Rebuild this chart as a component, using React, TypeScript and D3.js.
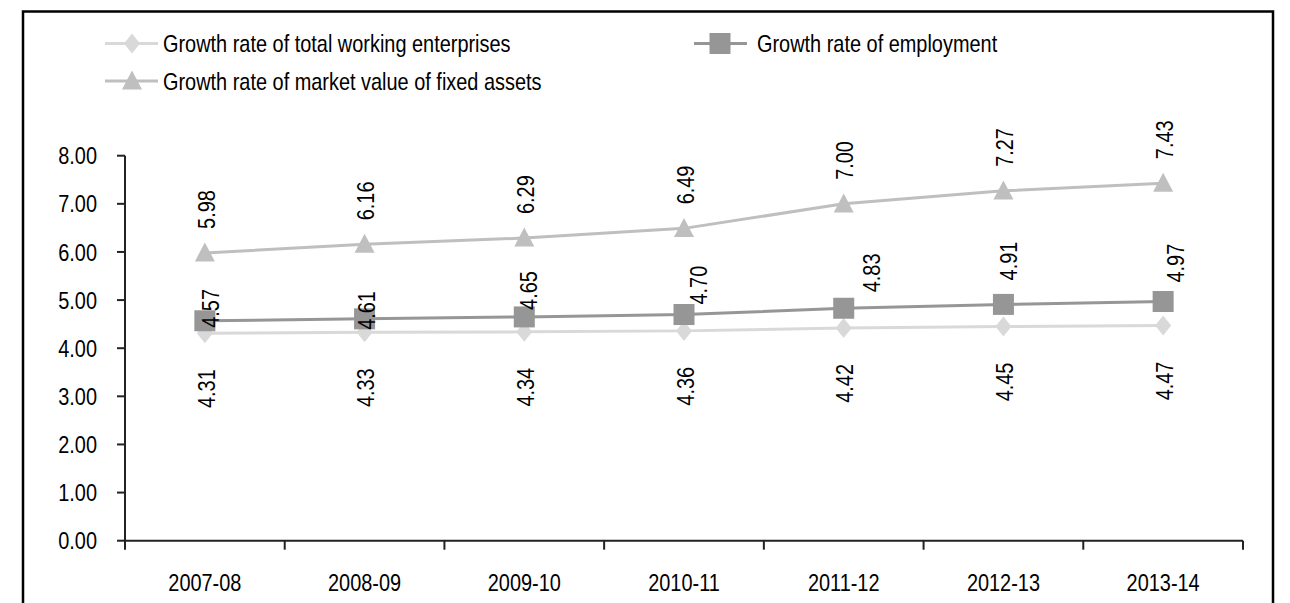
import React from "react";
import * as d3 from "d3";

const categories = ["2007-08", "2008-09", "2009-10", "2010-11", "2011-12", "2012-13", "2013-14"];
const enterprises = [4.31, 4.33, 4.34, 4.36, 4.42, 4.45, 4.47];
const employment = [4.57, 4.61, 4.65, 4.7, 4.83, 4.91, 4.97];
const fixedAssets = [5.98, 6.16, 6.29, 6.49, 7.0, 7.27, 7.43];
const yTicks = [0, 1, 2, 3, 4, 5, 6, 7, 8];
const legendNames = [
  "Growth rate of total working enterprises",
  "Growth rate of employment",
  "Growth rate of market value of fixed assets",
];
// manual label nudges for employment labels (as placed in the original)
const empLabelDx = [5, 2, 4, 14, 28, 5, 12];
const empLabelDy = [7, 11, -7, -10, -16, -24, -19];

const W = 1290;
const H = 603;
const FONT = "'Liberation Sans', Arial, sans-serif";
const FS = 24;
const SX = 0.83; // narrow look

const cEnt = "#d9d9d9";
const cEmp = "#969696";
const cFix = "#bfbfbf";

function T({
  x,
  y,
  rot = 0,
  anchor = "start",
  children,
}: {
  x: number;
  y: number;
  rot?: number;
  anchor?: string;
  children: React.ReactNode;
}) {
  return (
    <text
      transform={`translate(${x},${y})${rot ? ` rotate(${rot})` : ""} scale(${SX},1)`}
      textAnchor={anchor}
      dy="0.36em"
      fontSize={FS}
      fontFamily={FONT}
      fill="#000"
    >
      {children}
    </text>
  );
}

function Diamond({ x, y, c }: { x: number; y: number; c: string }) {
  const w = 8, h = 10;
  return <path d={`M${x},${y - h}L${x + w},${y}L${x},${y + h}L${x - w},${y}Z`} fill={c} />;
}
function Square({ x, y, c }: { x: number; y: number; c: string }) {
  const s = 21;
  return <rect x={x - s / 2} y={y - s / 2} width={s} height={s} fill={c} />;
}
function Tri({ x, y, c }: { x: number; y: number; c: string }) {
  const w = 10, h = 19;
  return <path d={`M${x},${y - h * 0.55}L${x + w},${y + h * 0.45}L${x - w},${y + h * 0.45}Z`} fill={c} />;
}

export default function App() {
  const x = d3.scaleBand<string>().domain(categories).range([125, 1243]).padding(0);
  const y = d3.scaleLinear().domain([0, 8]).range([540.7, 155.7]);
  const cx = (i: number) => (x(categories[i]) as number) + x.bandwidth() / 2;
  const line = d3
    .line<number>()
    .x((_, i) => cx(i))
    .y((d) => y(d));

  const edges = categories.map((c) => x(c) as number).concat([x.range()[1]]);
  const L1 = 43.5;
  const L2 = 81;

  return (
    <svg width={W} height={H} style={{ position: "absolute", left: 0, top: 0, background: "#fff" }}>
      <rect x={0} y={0} width={W} height={H} fill="#fff" />
      <rect x={23} y={11.5} width={1250} height={620} fill="none" stroke="#000" strokeWidth={2.5} />

      {/* Legend */}
      <line x1={105} x2={158} y1={L1} y2={L1} stroke={cEnt} strokeWidth={3} />
      <Diamond x={132} y={L1} c={cEnt} />
      <T x={163} y={L1}>{legendNames[0]}</T>

      <line x1={694} x2={747} y1={L1} y2={L1} stroke={cEmp} strokeWidth={3} />
      <Square x={720} y={L1} c={cEmp} />
      <T x={757} y={L1}>{legendNames[1]}</T>

      <line x1={105} x2={158} y1={L2} y2={L2} stroke={cFix} strokeWidth={3} />
      <Tri x={132} y={L2} c={cFix} />
      <T x={163} y={L2}>{legendNames[2]}</T>

      {/* Y axis */}
      <line x1={125} x2={125} y1={y(8)} y2={y(0)} stroke="#222" strokeWidth={2} />
      {yTicks.map((t) => (
        <g key={t}>
          <line x1={117} x2={125} y1={y(t)} y2={y(t)} stroke="#222" strokeWidth={2} />
          <T x={97} y={y(t)} anchor="end">
            {t.toFixed(2)}
          </T>
        </g>
      ))}

      {/* X axis */}
      <line x1={125} x2={1243} y1={y(0)} y2={y(0)} stroke="#222" strokeWidth={2} />
      {edges.map((e, i) => (
        <line key={i} x1={e} x2={e} y1={y(0)} y2={y(0) + 9} stroke="#222" strokeWidth={2} />
      ))}
      {categories.map((c, i) => (
        <T key={c} x={cx(i)} y={582} anchor="middle">
          {c}
        </T>
      ))}

      {/* Lines */}
      <path d={line(enterprises) as string} fill="none" stroke={cEnt} strokeWidth={3} />
      <path d={line(employment) as string} fill="none" stroke={cEmp} strokeWidth={3} />
      <path d={line(fixedAssets) as string} fill="none" stroke={cFix} strokeWidth={3} />

      {enterprises.map((v, i) => <Diamond key={"d" + i} x={cx(i)} y={y(v)} c={cEnt} />)}
      {employment.map((v, i) => <Square key={"s" + i} x={cx(i)} y={y(v)} c={cEmp} />)}
      {fixedAssets.map((v, i) => <Tri key={"t" + i} x={cx(i)} y={y(v)} c={cFix} />)}

      {/* Data labels */}
      {enterprises.map((v, i) => (
        <T key={"le" + i} x={cx(i) + 1} y={y(v) + 36} rot={-90} anchor="end">
          {v.toFixed(2)}
        </T>
      ))}
      {fixedAssets.map((v, i) => (
        <T key={"lf" + i} x={cx(i) + 1} y={y(v) - 24} rot={-90} anchor="start">
          {v.toFixed(2)}
        </T>
      ))}
      {employment.map((v, i) => (
        <T key={"lm" + i} x={cx(i) + empLabelDx[i]} y={y(v) + empLabelDy[i]} rot={-90} anchor="start">
          {v.toFixed(2)}
        </T>
      ))}
    </svg>
  );
}
